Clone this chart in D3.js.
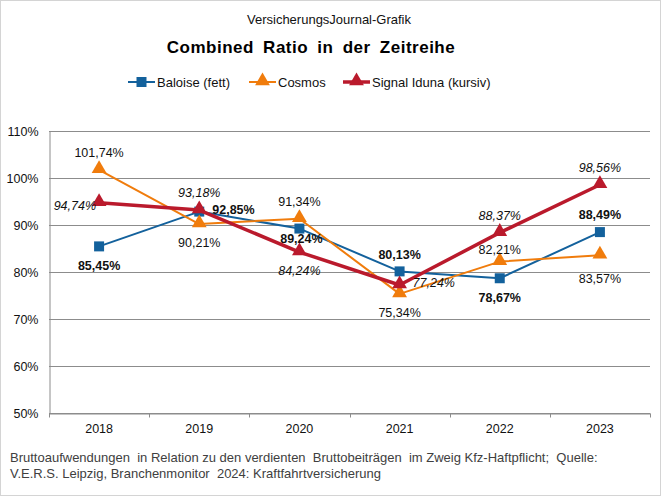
<!DOCTYPE html>
<html lang="de">
<head>
    <meta charset="UTF-8">
    <script src="https://cdn.jsdelivr.net/npm/d3@7"></script>
    <title>Combined Ratio in der Zeitreihe</title>
    <style>
        body { margin: 0; background: #fff; }
        svg text { font-family: "Liberation Sans", Arial, sans-serif; }
    </style>
</head>
<body>
    <div id="chart"></div>

    <script>
        // Data
        const years = ["2018", "2019", "2020", "2021", "2022", "2023"];
        const baloise = [85.45, 92.85, 89.24, 80.13, 78.67, 88.49];
        const cosmos = [101.74, 90.21, 91.34, 75.34, 82.21, 83.57];
        const signalIduna = [94.74, 93.18, 84.24, 77.24, 88.37, 98.56];
        const yTicks = [50, 60, 70, 80, 90, 100, 110];

        // where each value label sits relative to its marker
        const baloiseLabelPos = ["below", "right", "belowNear", "above", "below", "above"];
        const cosmosLabelPos = ["above", "below", "above", "below", "aboveNear", "belowFar"];
        const signalLabelPos = ["left", "above", "below", "right", "above", "above"];

        const width = 661, height = 496;
        const margin = { top: 131, right: 11, bottom: 83, left: 49 };

        const svg = d3.select("#chart").append("svg")
            .attr("width", width)
            .attr("height", height);

        // outer frame
        svg.append("rect")
            .attr("x", 0.5).attr("y", 0.5)
            .attr("width", width - 1).attr("height", height - 1)
            .attr("fill", "#fff")
            .attr("stroke", "#d4d4d4");

        /*------------------- scales --------------------*/
        const x = d3.scaleBand()
            .domain(years)
            .range([margin.left, width - margin.right]);

        const y = d3.scaleLinear()
            .domain([50, 110])
            .range([height - margin.bottom, margin.top]);

        const cx = d => x(d) + x.bandwidth() / 2;

        // gridlines
        svg.append("g")
            .selectAll("line")
            .data(yTicks)
            .enter()
            .append("line")
            .attr("x1", margin.left)
            .attr("x2", width - margin.right)
            .attr("y1", d => Math.round(y(d)) + 0.5)
            .attr("y2", d => Math.round(y(d)) + 0.5)
            .attr("stroke", "#8c8c8c")
            .attr("stroke-width", 1);

        // y axis
        const yAxis = svg.append("g")
            .attr("transform", `translate(${margin.left + 0.5},0)`)
            .call(d3.axisLeft(y).tickValues(yTicks).tickSize(0).tickPadding(11)
                .tickFormat(d => d + "%"));
        yAxis.select(".domain").attr("stroke", "#8c8c8c");
        yAxis.selectAll("text")
            .attr("font-size", 12.5)
            .attr("fill", "#111")
            .attr("font-family", "Liberation Sans, Arial, sans-serif");

        // x axis with ticks on category boundaries
        const xAxis = svg.append("g")
            .attr("transform", `translate(0,${Math.round(y(50)) + 0.5})`)
            .call(d3.axisBottom(x).tickSize(0).tickPadding(11));
        xAxis.select(".domain").attr("stroke", "#8c8c8c");
        xAxis.selectAll("text")
            .attr("font-size", 12.5)
            .attr("fill", "#111")
            .attr("font-family", "Liberation Sans, Arial, sans-serif");
        xAxis.selectAll(".boundary")
            .data(years.concat(["end"]))
            .enter()
            .append("line")
            .attr("class", "boundary")
            .attr("x1", (d, i) => Math.round(margin.left + i * x.step()) + 0.5)
            .attr("x2", (d, i) => Math.round(margin.left + i * x.step()) + 0.5)
            .attr("y1", 0)
            .attr("y2", 4)
            .attr("stroke", "#8c8c8c");

        /*------------------- series --------------------*/
        const series = [
            { name: "Baloise (fett)", values: baloise, color: "#13619c", width: 2, marker: "square", weight: "bold", style: "normal", pos: baloiseLabelPos },
            { name: "Cosmos", values: cosmos, color: "#f07c0c", width: 2, marker: "triangle", weight: "normal", style: "normal", pos: cosmosLabelPos },
            { name: "Signal Iduna (kursiv)", values: signalIduna, color: "#ba1a2c", width: 3.5, marker: "triangle", weight: "normal", style: "italic", pos: signalLabelPos }
        ];

        const line = d3.line()
            .x((d, i) => cx(years[i]))
            .y(d => y(d));

        const square = d3.symbol().type(d3.symbolSquare).size(100);
        const triangle = d3.symbol().type(d3.symbolTriangle).size(95);

        const drawMarker = (g, s, px, py) => {
            g.append("path")
                .attr("d", s.marker === "square" ? square() : triangle())
                .attr("transform", `translate(${px},${py + (s.marker === "triangle" ? -1 : 0)})`)
                .attr("fill", s.color);
        };

        series.forEach(s => {
            const g = svg.append("g");
            g.append("path")
                .datum(s.values)
                .attr("d", line)
                .attr("fill", "none")
                .attr("stroke", s.color)
                .attr("stroke-width", s.width)
                .attr("stroke-linejoin", "round");
            s.values.forEach((v, i) => drawMarker(g, s, cx(years[i]), y(v)));
        });

        // value labels
        const offsets = {
            above: { dx: 0, dy: -17, anchor: "middle" },
            aboveNear: { dx: 0, dy: -12, anchor: "middle" },
            below: { dx: 0, dy: 19, anchor: "middle" },
            belowNear: { dx: 2, dy: 10, anchor: "middle" },
            belowFar: { dx: 0, dy: 23, anchor: "middle" },
            left: { dx: -3, dy: 3, anchor: "end" },
            right: { dx: 13, dy: -2, anchor: "start" }
        };
        const fmt = v => v.toFixed(2).replace(".", ",") + "%";

        series.forEach(s => {
            svg.append("g")
                .selectAll("text")
                .data(s.values)
                .enter()
                .append("text")
                .attr("x", (d, i) => cx(years[i]) + offsets[s.pos[i]].dx)
                .attr("y", (d, i) => y(d) + offsets[s.pos[i]].dy)
                .attr("dy", "0.35em")
                .attr("text-anchor", (d, i) => offsets[s.pos[i]].anchor)
                .attr("font-size", 12.5)
                .attr("font-weight", s.weight)
                .attr("font-style", s.style)
                .attr("fill", "#111")
                .text(fmt);
        });

        /*------------------- titles & legend --------------------*/
        svg.append("text")
            .attr("x", 329).attr("y", 19).attr("dy", "0.35em")
            .attr("text-anchor", "middle")
            .attr("font-size", 13)
            .attr("fill", "#111")
            .text("VersicherungsJournal-Grafik");

        svg.append("text")
            .attr("x", 311).attr("y", 47).attr("dy", "0.35em")
            .attr("text-anchor", "middle")
            .attr("font-size", 17)
            .attr("font-weight", "bold")
            .attr("letter-spacing", 0.5)
            .attr("word-spacing", 4)
            .attr("fill", "#000")
            .text("Combined Ratio in der Zeitreihe");

        const legendX = [128, 249, 343];
        const legend = svg.append("g");
        series.forEach((s, i) => {
            const lg = legend.append("g").attr("transform", `translate(${legendX[i]},82)`);
            lg.append("line")
                .attr("x1", 0).attr("x2", 27)
                .attr("stroke", s.color)
                .attr("stroke-width", s.width);
            drawMarker(lg, s, 13.5, 0);
            lg.append("text")
                .attr("x", 29).attr("dy", "0.35em")
                .attr("font-size", 13)
                .attr("fill", "#111")
                .text(s.name);
        });

        // footnote
        const notes = [
            "Bruttoaufwendungen  in Relation zu den verdienten  Bruttobeiträgen  im Zweig Kfz-Haftpflicht;  Quelle:",
            "V.E.R.S. Leipzig, Branchenmonitor  2024: Kraftfahrtversicherung"
        ];
        svg.append("g")
            .selectAll("text")
            .data(notes)
            .enter()
            .append("text")
            .attr("x", 10)
            .attr("y", (d, i) => 457 + i * 16)
            .attr("dy", "0.35em")
            .attr("font-size", 13)
            .attr("fill", "#404040")
            .attr("xml:space", "preserve")
            .style("white-space", "pre")
            .text(d => d);
    </script>
</body>
</html>
